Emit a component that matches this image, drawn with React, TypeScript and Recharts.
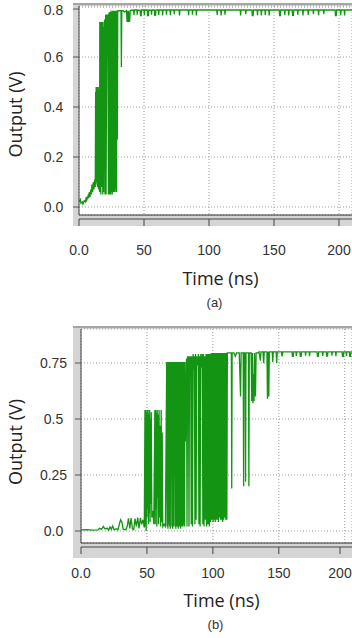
import React from "react";
import { LineChart, Line, XAxis, YAxis, CartesianGrid } from "recharts";

// time axis (ns) and output axis (V)
const timeTicks = [0, 50, 100, 150, 200];
const voltTicksA = [0, 0.2, 0.4, 0.6, 0.8];
const voltLabelsA = ["0.0", "0.2", "0.4", "0.6", "0.8"];
const voltTicksB = [0, 0.25, 0.5, 0.75];
const voltLabelsB = ["0.0", "0.25", "0.5", "0.75"];

// (a) output vs time, [ns, V]
const traceA: [number, number][] = [
  [0, 0.02], [1, 0.03], [1.5, 0.015], [2.5, 0.02], [3, 0.012], [4, 0.025], [5, 0.02], [5.5, 0.04],
  [6, 0.028], [7, 0.045], [7.5, 0.035], [8, 0.06], [8.5, 0.04], [9, 0.07], [9.5, 0.05], [10, 0.09],
  [10.5, 0.06], [11, 0.1], [11.5, 0.07], [12, 0.11], [12.5, 0.08],
  [12.8, 0.46], [13.0, 0.09], [13.2, 0.48], [13.4, 0.1], [13.6, 0.47], [13.8, 0.34], [14.0, 0.48],
  [14.2, 0.08], [14.4, 0.46], [14.6, 0.1], [14.8, 0.48], [15.0, 0.07], [15.2, 0.45], [15.4, 0.09],
  [15.6, 0.47], [15.8, 0.06],
  [16.0, 0.74], [16.3, 0.06], [16.5, 0.74], [16.8, 0.05], [17.0, 0.73], [17.3, 0.08], [17.5, 0.74],
  [17.8, 0.33], [18.0, 0.74], [18.3, 0.05], [18.6, 0.72], [18.9, 0.06], [19.2, 0.74], [19.5, 0.47],
  [19.7, 0.75], [20.0, 0.05],
  [20.5, 0.77], [20.8, 0.05], [21.4, 0.77], [21.8, 0.64], [22.2, 0.77], [22.6, 0.05], [23.0, 0.775], [23.2, 0.06],
  [23.4, 0.78], [23.6, 0.05], [23.8, 0.78], [24.0, 0.06], [24.2, 0.78], [24.4, 0.05], [24.6, 0.785], [24.8, 0.07],
  [25.0, 0.78], [25.2, 0.06], [25.4, 0.78], [25.6, 0.05], [25.8, 0.785], [26.0, 0.06], [26.2, 0.78], [26.4, 0.07],
  [26.6, 0.785], [26.8, 0.06], [27.0, 0.78], [27.2, 0.07], [27.4, 0.785], [27.6, 0.06], [27.8, 0.78], [28.0, 0.07],
  [28.2, 0.785], [28.4, 0.07], [28.6, 0.78], [28.8, 0.06],
  [29.2, 0.785], [29.5, 0.27], [29.8, 0.785], [31, 0.785], [32.3, 0.785], [32.6, 0.56], [32.9, 0.785], [34, 0.785],
  [35, 0.78], [36.5, 0.785], [37.0, 0.74], [37.4, 0.785], [37.8, 0.74], [38.2, 0.785], [38.6, 0.74], [39, 0.745],
  [39.4, 0.785], [40, 0.787],
  [42, 0.788], [42.3, 0.767], [42.6, 0.788], [44.5, 0.788], [44.8, 0.769], [45.1, 0.788], [47, 0.787],
  [47.3, 0.766], [47.8, 0.766], [48.1, 0.788], [50, 0.788], [50.3, 0.768], [50.6, 0.788], [52.5, 0.788],
  [52.8, 0.766], [53.4, 0.766], [53.7, 0.788], [55.5, 0.787], [55.8, 0.769], [56.1, 0.788], [58, 0.788],
  [58.3, 0.766], [58.9, 0.767], [59.2, 0.788], [61, 0.788], [61.3, 0.768], [61.6, 0.788], [64, 0.788],
  [64.3, 0.766], [64.6, 0.788], [67, 0.788], [67.3, 0.769], [67.6, 0.788], [70, 0.788], [70.3, 0.767],
  [70.6, 0.788], [73, 0.788], [73.3, 0.771], [73.6, 0.788], [77, 0.788], [77.3, 0.766], [77.6, 0.788],
  [80, 0.788], [84, 0.788], [84.3, 0.767], [84.6, 0.788], [87, 0.788], [87.3, 0.769], [87.6, 0.788],
  [90, 0.788], [90.3, 0.766], [90.6, 0.788], [95, 0.788], [106, 0.788], [106.3, 0.768], [106.6, 0.788],
  [109, 0.788], [109.3, 0.766], [109.6, 0.788], [112, 0.788], [112.3, 0.769], [112.6, 0.788], [118, 0.788],
  [124, 0.788], [124.3, 0.766], [124.6, 0.788], [128, 0.788], [128.3, 0.771], [128.6, 0.788], [133, 0.788],
  [133.3, 0.766], [133.9, 0.766], [134.2, 0.788], [137, 0.788], [137.3, 0.767], [137.6, 0.788], [140, 0.788],
  [140.3, 0.766], [140.6, 0.788], [143, 0.788], [143.3, 0.768], [143.6, 0.788], [146, 0.788], [146.3, 0.766],
  [146.6, 0.788], [150, 0.788], [154, 0.788], [154.3, 0.766], [154.9, 0.766], [155.2, 0.788], [158, 0.788],
  [158.3, 0.768], [158.6, 0.788], [161, 0.788], [161.3, 0.766], [161.6, 0.788], [164, 0.788], [164.3, 0.767],
  [164.9, 0.767], [165.2, 0.788], [168, 0.788], [168.3, 0.769], [168.6, 0.788], [172, 0.788], [172.3, 0.766],
  [172.6, 0.788], [176, 0.788], [176.3, 0.768], [176.6, 0.788], [180, 0.788], [180.3, 0.771], [180.6, 0.788],
  [184, 0.788], [184.3, 0.767], [184.6, 0.788], [188, 0.788], [188.3, 0.771], [188.6, 0.788], [193, 0.788],
  [197, 0.788], [197.3, 0.766], [197.9, 0.766], [198.2, 0.788], [201, 0.788], [201.3, 0.767], [201.6, 0.788],
  [204, 0.788], [204.3, 0.766], [204.6, 0.788], [207, 0.788], [210, 0.788],
];

// (b) output vs time, [ns, V]
const traceB: [number, number][] = [
  [0, 0.005], [5, 0.006], [8, 0.004], [13, 0.005], [14, 0.012], [15.5, 0.008], [17, 0.02], [18, 0.01],
  [20, 0.012], [21, 0.004], [22, 0.018], [23, 0.008], [24, 0.022], [25, 0.006], [27, 0.01], [28, 0.005],
  [30, 0.05], [31, 0.04], [32, 0.008], [34, 0.006], [35, 0.02], [36, 0.056], [37, 0.012], [38, 0.058],
  [39, 0.01], [40, 0.006], [41, 0.055], [42, 0.02], [43, 0.06], [44, 0.012], [45, 0.058], [46, 0.03],
  [47, 0.05], [48, 0.015],
  [48.5, 0.54], [48.8, 0.02], [49.1, 0.54], [49.4, 0.0], [49.7, 0.53], [50, 0.06], [50.3, 0.54], [50.6, 0.1],
  [50.9, 0.54], [51.2, 0.03], [51.5, 0.52], [51.8, 0.08], [52.1, 0.54], [52.4, 0.04], [52.7, 0.5], [53, 0.12],
  [53.3, 0.53], [53.7, 0.06], [54.5, 0.09], [55.2, 0.03],
  [56, 0.54], [56.3, 0.03], [56.6, 0.54], [56.9, 0.1], [57.2, 0.53], [57.5, 0.02], [57.8, 0.54], [58.1, 0.15],
  [58.4, 0.52], [58.8, 0.03], [59.2, 0.54], [59.6, 0.06], [60, 0.47], [60.4, 0.02], [60.8, 0.54], [61.2, 0.04],
  [61.6, 0.44], [62, 0.02], [63, 0.03], [64, 0.02],
  [65, 0.755], [65.3, 0.02], [65.6, 0.755], [65.9, 0.01], [66.2, 0.755], [66.5, 0.03], [66.8, 0.755], [67.1, 0.02],
  [67.4, 0.755], [67.7, 0.01], [68, 0.755], [68.3, 0.3], [68.6, 0.755], [68.9, 0.02], [69.2, 0.755], [69.5, 0.01],
  [69.8, 0.755], [70.1, 0.02], [70.4, 0.755], [70.7, 0.25], [71, 0.755], [71.3, 0.02], [71.6, 0.755], [71.9, 0.01],
  [72.2, 0.755], [72.5, 0.02], [72.8, 0.755], [73.1, 0.02], [73.4, 0.755], [73.7, 0.01], [74, 0.755], [74.3, 0.02],
  [74.6, 0.755], [74.9, 0.02], [75.2, 0.755], [75.5, 0.01], [75.8, 0.755], [76.1, 0.02], [76.4, 0.755], [76.7, 0.02],
  [77, 0.755], [77.3, 0.02], [77.6, 0.755], [77.9, 0.03], [78.2, 0.755], [78.5, 0.02], [78.8, 0.755], [79.1, 0.4],
  [80, 0.77], [80.4, 0.02], [80.8, 0.78], [81.2, 0.6], [81.5, 0.78], [81.9, 0.02], [82.3, 0.78], [82.8, 0.7],
  [83.2, 0.78], [83.6, 0.03], [84, 0.78], [84.5, 0.02], [85, 0.79], [85.5, 0.72], [86, 0.78], [86.4, 0.03],
  [86.8, 0.79], [87.3, 0.05], [87.7, 0.78], [88.5, 0.74], [89, 0.79], [89.4, 0.03], [89.8, 0.78], [90.3, 0.02],
  [90.8, 0.79], [91.5, 0.73], [92, 0.79], [92.4, 0.03], [92.8, 0.79], [93.3, 0.02], [93.8, 0.78], [94.3, 0.05],
  [94.8, 0.79], [95.3, 0.02], [95.8, 0.79], [96.3, 0.03], [96.8, 0.79], [97.3, 0.02], [97.8, 0.79],
  [98.3, 0.04], [98.8, 0.795], [99.3, 0.05], [99.8, 0.795], [100.2, 0.04], [100.6, 0.795], [101, 0.05],
  [101.4, 0.795], [101.8, 0.04], [102.2, 0.795], [102.6, 0.05], [103, 0.795], [103.4, 0.05], [103.8, 0.795],
  [104.2, 0.04], [104.6, 0.795], [105, 0.06], [105.4, 0.795], [105.8, 0.05], [106.2, 0.795], [106.6, 0.05],
  [107, 0.795], [107.4, 0.04], [107.8, 0.795], [108.2, 0.05], [108.6, 0.795], [109, 0.06], [109.4, 0.795],
  [109.8, 0.05], [110.2, 0.795], [110.6, 0.05], [111, 0.795],
  [112, 0.795], [114, 0.795], [114.3, 0.19], [114.6, 0.795], [116, 0.795], [117, 0.78], [118, 0.795],
  [120, 0.795], [121, 0.6], [121.4, 0.795], [123, 0.795], [123.3, 0.2], [123.6, 0.795], [124.5, 0.795],
  [124.8, 0.22], [125.1, 0.795], [126, 0.795], [127, 0.795], [127.3, 0.2], [127.6, 0.795], [129, 0.795],
  [129.5, 0.58], [130, 0.795], [130.4, 0.57], [130.8, 0.7], [131.2, 0.58], [131.6, 0.795], [132.3, 0.6],
  [132.8, 0.795], [134, 0.795],
  [135, 0.8], [136, 0.76], [136.5, 0.8], [138, 0.8], [138.5, 0.75], [139, 0.8], [141, 0.8], [141.4, 0.59],
  [141.8, 0.8], [142.4, 0.6], [142.8, 0.8], [145, 0.8], [145.4, 0.755], [145.8, 0.8], [148, 0.8], [148.4, 0.75],
  [148.8, 0.8], [152, 0.8], [152.5, 0.78], [153, 0.8], [156, 0.8], [160, 0.8], [160.3, 0.78], [160.9, 0.78],
  [161.2, 0.8], [163, 0.8], [163.3, 0.782], [163.6, 0.8], [166, 0.8], [166.3, 0.78], [166.9, 0.78], [167.2, 0.8],
  [170, 0.8], [170.3, 0.783], [170.6, 0.8], [173, 0.8], [173.3, 0.78], [173.6, 0.8], [176, 0.8], [179, 0.8],
  [179.3, 0.78], [179.9, 0.78], [180.2, 0.8], [183, 0.8], [183.3, 0.782], [183.6, 0.8], [186, 0.8],
  [186.3, 0.78], [186.9, 0.781], [187.2, 0.8], [190, 0.8], [190.3, 0.783], [190.6, 0.8], [193, 0.8],
  [193.3, 0.78], [193.6, 0.8], [198, 0.8], [198.3, 0.78], [198.9, 0.78], [199.2, 0.8], [201, 0.8],
  [201.3, 0.782], [201.6, 0.8], [203.5, 0.8], [203.8, 0.78], [204.4, 0.78], [204.7, 0.8], [206, 0.8],
];

const GREEN = "#139513";
const tickFont = "'Liberation Sans', Arial, sans-serif";
const titleFont = "'Open Sans', sans-serif";

interface PanelProps {
  top: number;
  height: number;
  plotTop: number;
  axisWidth: number;
  axisHeight: number;
  trace: [number, number][];
  yTicks: number[];
  yLabels: string[];
  yDomain: [number, number];
  xDomain: [number, number];
  frame: { top: number; height: number };
  tickDy: number;
  titleDy: number;
  captionDy: number;
  yTitleShift: number;
  caption: string;
}

function Panel(p: PanelProps) {
  const data = p.trace.map(([t, v]) => ({ t, v }));

  const XTick = (props: any) => {
    const { x, y, payload } = props;
    return (
      <g>
        <line x1={x} x2={x} y1={y + 4} y2={y + 11} stroke="#444" />
        <text x={x} y={y + p.tickDy} textAnchor="middle" fontSize={14}
          fontFamily={tickFont} fill="#333">
          {payload.value === 0 ? "0.0" : payload.value}
        </text>
      </g>
    );
  };

  const YTick = (props: any) => {
    const { x, y, payload, index } = props;
    // keep the top label inside the frame, as in the source figure
    const ty = Math.max(y + 5, p.plotTop + 9);
    return (
      <g>
        <line x1={x - 6} x2={x} y1={y} y2={y} stroke="#555" />
        <text x={53.5} y={ty} textAnchor="middle" fontSize={14}
          fontFamily={tickFont} fill="#333">
          {p.yLabels[index] ?? payload.value}
        </text>
      </g>
    );
  };

  const xTitle = (props: any) => {
    const vb = props.viewBox;
    const cx = vb.x + vb.width / 2;
    return (
      <g>
        <line x1={vb.x} x2={vb.x + vb.width} y1={vb.y + 4} y2={vb.y + 4} stroke="#444" />
        <text x={cx + 5} y={vb.y + p.titleDy} textAnchor="middle" fontSize={18}
          fontFamily={titleFont} fill="#222">
          Time (ns)
        </text>
        <text x={cx - 1} y={vb.y + p.captionDy} textAnchor="middle" fontSize={13}
          fontFamily={tickFont} fill="#333">
          {p.caption}
        </text>
      </g>
    );
  };

  const yTitle = (props: any) => {
    const vb = props.viewBox;
    const cy = vb.y + vb.height / 2 + p.yTitleShift;
    return (
      <text x={22} y={cy} transform={`rotate(-90 22 ${cy})`} textAnchor="middle"
        fontSize={18} fontFamily={titleFont} fill="#222">
        Output (V)
      </text>
    );
  };

  return (
    <div style={{ position: "absolute", top: p.top, left: 0, width: 352, height: p.height }}>
      <div style={{
        position: "absolute", left: 73, top: p.frame.top, width: 279, height: p.frame.height,
        background: "#d5d5d5", borderTop: "2px solid #a5a5a5", boxSizing: "border-box",
      }} />
      <div style={{ position: "absolute", left: 0, top: 0 }}>
        <LineChart width={352} height={p.height} data={data}
          margin={{ top: p.plotTop, right: 0, bottom: 0, left: 0 }}>
          <CartesianGrid fill="#fff" stroke="#9a9a9a" strokeDasharray="1 2" />
          <XAxis type="number" dataKey="t" domain={p.xDomain} ticks={timeTicks}
            allowDataOverflow height={p.axisHeight} tickSize={0} tickMargin={0}
            axisLine={{ stroke: "#333" }} tickLine={false} tick={XTick}
            label={{ content: xTitle }} />
          <YAxis type="number" domain={p.yDomain} ticks={p.yTicks} allowDataOverflow
            width={p.axisWidth} tickSize={0} tickMargin={0}
            axisLine={{ stroke: "#444" }} tickLine={false} tick={YTick}
            label={{ content: yTitle }} />
          <Line type="linear" dataKey="v" stroke={GREEN} strokeWidth={1.3}
            dot={false} activeDot={false} isAnimationActive={false} />
        </LineChart>
      </div>
    </div>
  );
}

export default function App() {
  return (
    <div style={{ position: "absolute", top: 0, left: 0, width: 352, height: 638, overflow: "hidden", background: "#fff" }}>
      <Panel top={0} height={318} plotTop={6} axisWidth={79} axisHeight={103}
        trace={traceA} yTicks={voltTicksA} yLabels={voltLabelsA}
        yDomain={[-0.032, 0.804]} xDomain={[0, 210]}
        frame={{ top: 3, height: 223 }} tickDy={40} titleDy={70} captionDy={92}
        yTitleShift={4} caption="(a)" />
      <Panel top={320} height={318} plotTop={9} axisWidth={81} axisHeight={95}
        trace={traceB} yTicks={voltTicksB} yLabels={voltLabelsB}
        yDomain={[-0.0536, 0.9018]} xDomain={[0, 205.5]}
        frame={{ top: 6, height: 232 }} tickDy={35} titleDy={64} captionDy={86}
        yTitleShift={6} caption="(b)" />
    </div>
  );
}
